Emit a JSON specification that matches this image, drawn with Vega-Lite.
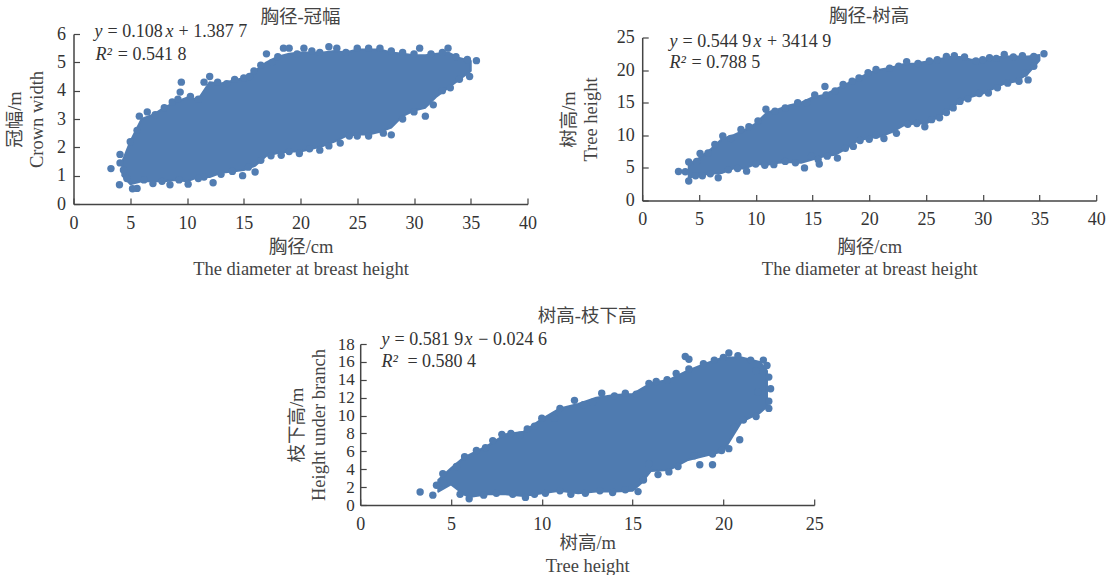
{"$schema":"https://vega.github.io/schema/vega-lite/v6.json","padding":{"left":5.5,"top":7,"right":0,"bottom":0},"bounds":"flush","spacing":310,"background":"white",
"config":{"view":{"stroke":null},"font":"Liberation Serif","text":{"font":"Liberation Serif"},"axis":{"grid":false,"labelFlush":false,"domainColor":"#444","tickColor":"#444","domainWidth":1.5,"tickWidth":1.2,"tickSize":-6,"labelPadding":16,"labelFont":"Liberation Serif","labelFontSize":18,"labelColor":"#333","titleFont":"Liberation Serif, Noto Sans CJK SC","titleFontSize":18.5,"titleFontWeight":"normal","titleColor":"#444","titleLineHeight":22}},
"datasets":{
"p1env":[{"x":4.3,"lo":1,"hi":1.5},{"x":5,"lo":0.7,"hi":2.2},{"x":6,"lo":0.8,"hi":3},{"x":7,"lo":0.8,"hi":3.15},{"x":8,"lo":0.8,"hi":3.4},{"x":9,"lo":0.85,"hi":3.6},{"x":10,"lo":0.8,"hi":3.75},{"x":11,"lo":0.95,"hi":3.7},{"x":12,"lo":0.95,"hi":4.3},{"x":13,"lo":1.1,"hi":4.25},{"x":14,"lo":1.15,"hi":4.35},{"x":15,"lo":1.2,"hi":4.45},{"x":16,"lo":1.35,"hi":4.7},{"x":17,"lo":1.7,"hi":5},{"x":18,"lo":1.8,"hi":5.2},{"x":19,"lo":1.85,"hi":5.3},{"x":20,"lo":1.85,"hi":5.35},{"x":21,"lo":1.95,"hi":5.35},{"x":22,"lo":2.05,"hi":5.35},{"x":23,"lo":2.2,"hi":5.4},{"x":24,"lo":2.4,"hi":5.35},{"x":25,"lo":2.45,"hi":5.45},{"x":26,"lo":2.45,"hi":5.45},{"x":27,"lo":2.55,"hi":5.45},{"x":28,"lo":2.7,"hi":5.35},{"x":29,"lo":3.1,"hi":5.3},{"x":30,"lo":3.3,"hi":5.25},{"x":31,"lo":3.4,"hi":5.25},{"x":32,"lo":3.8,"hi":5.3},{"x":33,"lo":4.1,"hi":5.35},{"x":34,"lo":4.4,"hi":5.15},{"x":35,"lo":4.7,"hi":5.05}],
"p1edge":[{"x":3.3,"y":1.25},{"x":4.1,"y":1.75},{"x":4.1,"y":1.45},{"x":4.4,"y":1.2},{"x":5,"y":2.2},{"x":5.6,"y":2.6},{"x":5.8,"y":3.1},{"x":6.5,"y":3.25},{"x":7.2,"y":3.15},{"x":8,"y":3.4},{"x":8.7,"y":3.6},{"x":9.2,"y":3.7},{"x":9.4,"y":3.95},{"x":9.5,"y":4.3},{"x":10.3,"y":3.8},{"x":11,"y":3.7},{"x":11.5,"y":4.3},{"x":12,"y":4.5},{"x":12.7,"y":4.3},{"x":13.5,"y":4.25},{"x":14.2,"y":4.4},{"x":15,"y":4.45},{"x":15.5,"y":4.5},{"x":15.9,"y":4.7},{"x":16.5,"y":4.9},{"x":17,"y":5.3},{"x":17.5,"y":5},{"x":18,"y":5.2},{"x":18.5,"y":5.5},{"x":19,"y":5.5},{"x":19.7,"y":5.3},{"x":20.3,"y":5.5},{"x":21,"y":5.4},{"x":21.7,"y":5.35},{"x":22.5,"y":5.55},{"x":23.2,"y":5.5},{"x":24,"y":5.35},{"x":25,"y":5.5},{"x":26,"y":5.5},{"x":27,"y":5.5},{"x":28,"y":5.4},{"x":29,"y":5.35},{"x":30,"y":5.3},{"x":30.5,"y":5.5},{"x":31.5,"y":5.3},{"x":32.5,"y":5.35},{"x":33,"y":5.5},{"x":33.7,"y":5.2},{"x":34.7,"y":5.1},{"x":35.5,"y":5.06},{"x":34.9,"y":4.5},{"x":34,"y":4.4},{"x":33.2,"y":4.1},{"x":32.5,"y":4},{"x":31.7,"y":3.5},{"x":31,"y":3.1},{"x":30,"y":3.25},{"x":29,"y":3},{"x":28,"y":2.44},{"x":27.3,"y":2.5},{"x":26,"y":2.4},{"x":25,"y":2.4},{"x":24.3,"y":2.4},{"x":23.5,"y":2.15},{"x":22.5,"y":2.05},{"x":21.7,"y":1.9},{"x":20.8,"y":1.95},{"x":19.9,"y":1.78},{"x":19,"y":1.85},{"x":18.3,"y":1.72},{"x":17.4,"y":1.7},{"x":16.5,"y":1.54},{"x":16,"y":1.13},{"x":15.4,"y":1.3},{"x":14.9,"y":1},{"x":14,"y":1.15},{"x":13,"y":1.05},{"x":12.3,"y":0.75},{"x":11.5,"y":0.95},{"x":11,"y":0.9},{"x":10.1,"y":0.7},{"x":9.3,"y":0.85},{"x":8.5,"y":0.68},{"x":7.8,"y":0.8},{"x":7,"y":0.72},{"x":6.2,"y":0.85},{"x":5.6,"y":0.55},{"x":5.2,"y":0.54},{"x":4.7,"y":0.9},{"x":4.05,"y":0.68}],
"p1it":[{"x":1.85,"y":6.06,"t":"y"},{"x":8.1,"y":6.06,"t":"x"},{"x":1.94,"y":5.25,"t":"R²"}],
"p1ro":[{"x":3,"y":6.06,"t":"= 0.108"},{"x":9.25,"y":6.06,"t":"+ 1.387 7"},{"x":3.9,"y":5.25,"t":"= 0.541 8"}],
"p2env":[{"x":4.1,"lo":3.5,"hi":5.5},{"x":5,"lo":3.9,"hi":6.5},{"x":6,"lo":4.1,"hi":7.8},{"x":7,"lo":4.2,"hi":9.4},{"x":8,"lo":4.9,"hi":10},{"x":9,"lo":4.9,"hi":10.8},{"x":10,"lo":5.6,"hi":11.8},{"x":11,"lo":5.5,"hi":13.5},{"x":12,"lo":5.8,"hi":14},{"x":13,"lo":5.9,"hi":14.6},{"x":14,"lo":5.8,"hi":15},{"x":15,"lo":6.3,"hi":15.8},{"x":16,"lo":6.8,"hi":16.2},{"x":17,"lo":7,"hi":17},{"x":18,"lo":8,"hi":17.9},{"x":19,"lo":9.2,"hi":18.7},{"x":20,"lo":9.6,"hi":19.6},{"x":21,"lo":9.8,"hi":20.1},{"x":22,"lo":10.5,"hi":20.4},{"x":23,"lo":11.5,"hi":20.9},{"x":24,"lo":11.8,"hi":21},{"x":25,"lo":11.8,"hi":21.3},{"x":26,"lo":12.7,"hi":21.6},{"x":27,"lo":13.9,"hi":22},{"x":28,"lo":15.2,"hi":22},{"x":29,"lo":15.9,"hi":21.6},{"x":30,"lo":16.4,"hi":21.6},{"x":31,"lo":17.2,"hi":21.9},{"x":32,"lo":18,"hi":22.1},{"x":33,"lo":18.3,"hi":22.1},{"x":34,"lo":19.5,"hi":22.1},{"x":35,"lo":21.5,"hi":22.3}],
"p2edge":[{"x":3.2,"y":4.45},{"x":3.8,"y":4.4},{"x":4.1,"y":5.9},{"x":4.8,"y":6},{"x":5.1,"y":7.2},{"x":5.8,"y":7.3},{"x":6.4,"y":8.6},{"x":7.1,"y":9.9},{"x":7.8,"y":9.5},{"x":8.7,"y":10.9},{"x":9.4,"y":11.3},{"x":10.2,"y":12.2},{"x":10.9,"y":14},{"x":11.7,"y":13.7},{"x":12.6,"y":14.2},{"x":13.7,"y":15},{"x":14.5,"y":15},{"x":15.2,"y":16.2},{"x":16.1,"y":17.5},{"x":16.2,"y":16.2},{"x":17,"y":16.8},{"x":17.7,"y":17.8},{"x":18.5,"y":18.3},{"x":19.1,"y":18.8},{"x":19.9,"y":19.6},{"x":20.6,"y":20.1},{"x":21.8,"y":20.3},{"x":22.6,"y":20.6},{"x":23.3,"y":21.3},{"x":24.3,"y":21},{"x":25.3,"y":21.4},{"x":26,"y":21.6},{"x":26.8,"y":22.1},{"x":27.5,"y":22.2},{"x":28.4,"y":22},{"x":29.4,"y":21.4},{"x":30,"y":21.6},{"x":30.6,"y":21.9},{"x":31.2,"y":21.8},{"x":31.9,"y":22.4},{"x":32.7,"y":22},{"x":33.5,"y":22.2},{"x":34.5,"y":22.1},{"x":35.4,"y":22.5},{"x":34.5,"y":20.6},{"x":34,"y":18.5},{"x":33.7,"y":19.5},{"x":33.2,"y":18.3},{"x":32.2,"y":18},{"x":31.3,"y":17.3},{"x":30.5,"y":16.5},{"x":29.7,"y":16.4},{"x":28.7,"y":15.6},{"x":28,"y":15.2},{"x":27.4,"y":14.2},{"x":26.8,"y":13.5},{"x":26.2,"y":12.7},{"x":25.5,"y":12.4},{"x":24.9,"y":11.3},{"x":24.2,"y":11.8},{"x":23.4,"y":11.7},{"x":22.4,"y":10.3},{"x":21.3,"y":9.5},{"x":20.6,"y":10},{"x":20,"y":9.4},{"x":19.2,"y":9.2},{"x":18.6,"y":8.3},{"x":17.9,"y":8},{"x":17.2,"y":6.5},{"x":16.3,"y":6.8},{"x":15.6,"y":5.6},{"x":15.5,"y":6.3},{"x":14.9,"y":6.8},{"x":14.3,"y":5},{"x":13.5,"y":5.8},{"x":12.6,"y":6},{"x":11.6,"y":5.5},{"x":10.8,"y":5.4},{"x":10,"y":5.6},{"x":9.2,"y":4.5},{"x":8.4,"y":4.9},{"x":7.6,"y":4.7},{"x":6.7,"y":3.5},{"x":6,"y":4.1},{"x":5.3,"y":3.8},{"x":4.7,"y":3.8},{"x":4.1,"y":3}],
"p2it":[{"x":2.4,"y":24.3,"t":"y"},{"x":9.8,"y":24.3,"t":"x"},{"x":2.4,"y":21.1,"t":"R²"}],
"p2ro":[{"x":3.55,"y":24.3,"t":"= 0.544 9"},{"x":11,"y":24.3,"t":"+ 3414 9"},{"x":4.35,"y":21.1,"t":"= 0.788 5"}],
"p3env":[{"x":4.3,"lo":1.5,"hi":2.8},{"x":5,"lo":2.3,"hi":4.1},{"x":5.7,"lo":1.2,"hi":5.3},{"x":6,"lo":0.9,"hi":5.6},{"x":7,"lo":1.2,"hi":6.6},{"x":8,"lo":1.2,"hi":7.9},{"x":9,"lo":1,"hi":8.2},{"x":10,"lo":1.3,"hi":9.6},{"x":11,"lo":1.6,"hi":10.8},{"x":12,"lo":1.3,"hi":11.3},{"x":13,"lo":1.5,"hi":12},{"x":14,"lo":1.5,"hi":12.3},{"x":15,"lo":1.6,"hi":12.4},{"x":15.5,"lo":2.5,"hi":13},{"x":16,"lo":3.8,"hi":13.6},{"x":17,"lo":3.9,"hi":14},{"x":18,"lo":5,"hi":15},{"x":19,"lo":5.5,"hi":15.8},{"x":20,"lo":6,"hi":16.5},{"x":21,"lo":9.3,"hi":16.5},{"x":22,"lo":10.3,"hi":16},{"x":22.4,"lo":11,"hi":15}],
"p3edge":[{"x":3.3,"y":1.46},{"x":4,"y":1.1},{"x":4.2,"y":2.2},{"x":4.6,"y":2.5},{"x":4.55,"y":3.5},{"x":5.3,"y":4.3},{"x":5.75,"y":5.4},{"x":6.4,"y":6.1},{"x":6.9,"y":6.4},{"x":7.3,"y":7.2},{"x":7.8,"y":7.9},{"x":8.3,"y":8},{"x":8.8,"y":7.8},{"x":9.2,"y":8.5},{"x":9.6,"y":8.8},{"x":10,"y":9.7},{"x":10.7,"y":9.7},{"x":11,"y":10.8},{"x":11.8,"y":11.7},{"x":12.3,"y":11.2},{"x":12.8,"y":11.5},{"x":13.3,"y":12.5},{"x":14,"y":12.2},{"x":14.6,"y":12.5},{"x":15.2,"y":12.4},{"x":15.9,"y":13.6},{"x":16.3,"y":13.8},{"x":16.9,"y":14},{"x":17.4,"y":14.7},{"x":17.9,"y":16.6},{"x":18.1,"y":16.3},{"x":18.1,"y":15.2},{"x":18.9,"y":15.8},{"x":19.5,"y":16.2},{"x":20,"y":16.5},{"x":20.3,"y":17},{"x":20.8,"y":16.7},{"x":21.5,"y":16.2},{"x":22.2,"y":16.2},{"x":22.4,"y":15.6},{"x":21.8,"y":15},{"x":22.5,"y":14.3},{"x":22.6,"y":13},{"x":21.9,"y":12.6},{"x":22.5,"y":11.6},{"x":22.5,"y":10.8},{"x":21.8,"y":9.9},{"x":21.1,"y":9.5},{"x":20.6,"y":8.7},{"x":20.9,"y":7.3},{"x":20.3,"y":6.3},{"x":19.9,"y":6.1},{"x":19.4,"y":5.7},{"x":19.4,"y":4.5},{"x":18.7,"y":4.5},{"x":18.4,"y":5.5},{"x":17.5,"y":4.3},{"x":17,"y":3.7},{"x":16.4,"y":3.4},{"x":15.9,"y":4.6},{"x":15.6,"y":2.8},{"x":15.3,"y":1.5},{"x":14.6,"y":1.7},{"x":13.9,"y":1.4},{"x":13.2,"y":1.6},{"x":12.4,"y":1.3},{"x":11.6,"y":1.2},{"x":11,"y":1.6},{"x":10.2,"y":1.3},{"x":9.6,"y":1.2},{"x":9.1,"y":0.85},{"x":8.4,"y":1.2},{"x":7.5,"y":1.3},{"x":6.8,"y":1.1},{"x":6,"y":0.7},{"x":5.5,"y":1.2}],
"p3it":[{"x":1.17,"y":18.5,"t":"y"},{"x":5.75,"y":18.5,"t":"x"},{"x":1.17,"y":16,"t":"R²"}],
"p3ro":[{"x":1.89,"y":18.5,"t":"= 0.581 9"},{"x":6.5,"y":18.5,"t":"− 0.024 6"},{"x":2.6,"y":16,"t":"= 0.580 4"}]
},
"vconcat":[
{"hconcat":[
{"width":454,"height":170,"title":{"text":"胸径-冠幅","font":"Liberation Serif, Noto Sans CJK SC","fontSize":18.5,"fontWeight":"normal","color":"#444","offset":-3},
"encoding":{"x":{"field":"x","type":"quantitative","scale":{"domain":[0,40],"nice":false},"axis":{"values":[0,5,10,15,20,25,30,35,40],"title":["胸径/cm","The diameter at breast height"],"titlePadding":5}},"y":{"field":"y","type":"quantitative","scale":{"domain":[0,6],"nice":false},"axis":{"values":[0,1,2,3,4,5,6],"labelPadding":14,"title":["冠幅/m","Crown width"],"titlePadding":10}}},
"layer":[{"data":{"name":"p1env"},"mark":{"type":"area","color":"#527db2","opacity":1,"stroke":"#527db2","strokeWidth":2,"strokeJoin":"round"},"encoding":{"y":{"field":"hi","type":"quantitative"},"y2":{"field":"lo"}}},{"data":{"name":"p1edge"},"mark":{"type":"circle","size":55,"opacity":1,"color":"#527db2"}},
{"data":{"name":"p1it"},"mark":{"type":"text","align":"left","baseline":"middle","fontSize":18,"fontStyle":"italic","color":"#333"},"encoding":{"text":{"field":"t"}}},
{"data":{"name":"p1ro"},"mark":{"type":"text","align":"left","baseline":"middle","fontSize":18,"color":"#333"},"encoding":{"text":{"field":"t"}}}]},
{"width":454,"height":163,"title":{"text":"胸径-树高","font":"Liberation Serif, Noto Sans CJK SC","fontSize":18.5,"fontWeight":"normal","color":"#444","offset":3},
"encoding":{"x":{"field":"x","type":"quantitative","scale":{"domain":[0,40],"nice":false},"axis":{"values":[0,5,10,15,20,25,30,35,40],"title":["胸径/cm","The diameter at breast height"],"titlePadding":9}},"y":{"field":"y","type":"quantitative","scale":{"domain":[0,25],"nice":false},"axis":{"values":[0,5,10,15,20,25],"labelPadding":14,"title":["树高/m","Tree height"],"titlePadding":15.7}}},
"layer":[{"data":{"name":"p2env"},"mark":{"type":"area","color":"#527db2","opacity":1,"stroke":"#527db2","strokeWidth":2,"strokeJoin":"round"},"encoding":{"y":{"field":"hi","type":"quantitative"},"y2":{"field":"lo"}}},{"data":{"name":"p2edge"},"mark":{"type":"circle","size":55,"opacity":1,"color":"#527db2"}},
{"data":{"name":"p2it"},"mark":{"type":"text","align":"left","baseline":"middle","fontSize":18,"fontStyle":"italic","color":"#333"},"encoding":{"text":{"field":"t"}}},
{"data":{"name":"p2ro"},"mark":{"type":"text","align":"left","baseline":"middle","fontSize":18,"color":"#333"},"encoding":{"text":{"field":"t"}}}]}
],"spacing":114.7,"center":true,"bounds":"flush"},
{"hconcat":[
{"width":1,"height":1,"data":{"values":[{"x":0}]},"mark":{"type":"point","opacity":0},"encoding":{}},
{"width":454,"height":161,"title":{"text":"树高-枝下高","font":"Liberation Serif, Noto Sans CJK SC","fontSize":18.5,"fontWeight":"normal","color":"#444","offset":5},
"encoding":{"x":{"field":"x","type":"quantitative","scale":{"domain":[0,25],"nice":false},"axis":{"values":[0,5,10,15,20,25],"title":["树高/m","Tree height"],"titlePadding":0,"titleLineHeight":23}},"y":{"field":"y","type":"quantitative","scale":{"domain":[0,18],"nice":false},"axis":{"values":[0,2,4,6,8,10,12,14,16,18],"labelPadding":12,"labelFontSize":17,"title":["枝下高/m","Height under branch"],"titlePadding":9.2}}},
"layer":[{"data":{"name":"p3env"},"mark":{"type":"area","color":"#4f7bb0","opacity":1,"stroke":"#4f7bb0","strokeWidth":2,"strokeJoin":"round"},"encoding":{"y":{"field":"hi","type":"quantitative"},"y2":{"field":"lo"}}},{"data":{"name":"p3edge"},"mark":{"type":"circle","size":55,"opacity":1,"color":"#4f7bb0"}},
{"data":{"name":"p3it"},"mark":{"type":"text","align":"left","baseline":"middle","fontSize":18,"fontStyle":"italic","color":"#333"},"encoding":{"text":{"field":"t"}}},
{"data":{"name":"p3ro"},"mark":{"type":"text","align":"left","baseline":"middle","fontSize":18,"color":"#333"},"encoding":{"text":{"field":"t"}}}]}
],"spacing":285.7,"bounds":"flush"}
]}
